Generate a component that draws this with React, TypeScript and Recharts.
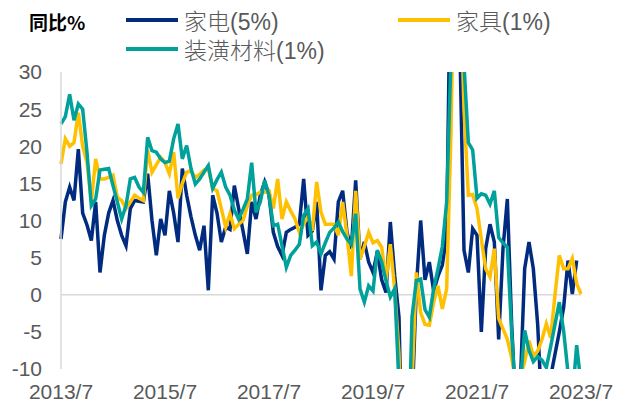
import { LineChart, Line, XAxis, YAxis, ReferenceLine } from 'recharts';

// monthly, 2013/7 .. 2023/7
const months: string[] = [];
for (let y = 2013, m = 7; y < 2023 || (y === 2023 && m <= 7); m++) {
  if (m > 12) { m = 1; y++; }
  months.push(`${y}/${m}`);
}

const yTicks = [-10, -5, 0, 5, 10, 15, 20, 25, 30];

// 家电(5%)
const appliance = [
  7.5, 12.5, 14.5, 12.7, 19.6, 11, 9.4, 7.3, 12.5, 3,
  8, 11, 12.7, 10, 8, 6.6, 11.6, 12.7, 12.6, 12.5,
  16.3, 10, 5.3, 10.2, 8, 14, 11, 7.1, 17, 13.4,
  10.5, 8, 6, 9.3, 0.6, 13.4, 11, 7.1, 9.1, 8.8,
  14.7, 11.6, 8.6, 5.5, 12.5, 10.2, 13.4, 15.2, 13.4, 8.4,
  6.5, 5.3, 8.4, 8.8, 9.1, 9.5, 15.6, 8, 8.6, 12.5,
  0.6, 5.3, 5.8, 4.8, 12.5, 14, 8.4, 6.2, 15.4, 4.8,
  7.1, 4.4, 3, 5.8, 2, 0.3, 9.8, 2.6, -3, -30,
  -25, -15, 1, 10, 2, 4.4, 0.5, 2.5, 4, 8,
  50, 60, 35, 6, 3, 8.9, 8, -5, 6.2, 9.5,
  7.1, -6, 6.2, 12.9, -4, -16, -12, 3.5, 7.1, 3.5,
  -4, -16, -14, -11, -8, -5, -1.7, 4.6, 0.1, 4.6,
  null,
];

// 家具(1%)
const furniture = [
  17.6, 21, 20, 20.5, 24.5, 20, 17.8, 12.5, 18.3, 15.6,
  15.6, 15.8, 16.1, 13.1, 12.7, 11.6, 12.5, 13.4, 13, 12.7,
  19.5, 16.5, 17.5, 18.5, 17.8, 16.3, 19.2, 13, 15, 16.5,
  16.7, 15.8, 16.2, 16.8, 17, 14.3, 14, 11.6, 9.1, 10.9,
  8.9, 9.5, 10, 12, 13.4, 13.5, 13.8, 13.8, 14, 11.6,
  15.6, 10.2, 12.5, 11.3, 10.2, 8.4, 9.5, 10.6, 8.6, 15.2,
  11.1, 9.5, 9.5, 9.5, 8, 12.5, 8, 2.5, 14, 4.8,
  6.5, 8.4, 7, 7.3, 6.4, 1.9, 6.8, 0.8, -8, -30,
  -28, -12, 3, -2.4, -4, -4.1, -1, 1.2, -1.9, 0.8,
  22, 55, 45, 25, 13.4, 13.5, 11.6, 7.5, 3.5, 2.4,
  6.2, -3.2, -4.6, -6, -8.5, -12, -11, -9, -6.2, -8.2,
  -7.6, -6, -3.9, -5.8, 0, 5.3, 3.5, 3.5, 4.9, 1.5,
  0.1,
];

// 装潢材料(1%)
const decoration = [
  23, 24, 27, 23.5, 25.7, 25, 19.2, 12, 12.9, 16.8,
  16.9, 17, 14.7, 12.5, 10.2, 12, 15.6, 15.8, 14.5, 13.8,
  21.2, 19.4, 19.2, 18.3, 17.8, 18, 21, 23, 18.3, 20.1,
  17, 14.9, 15.6, 16.5, 17.4, 14.3, 15.5, 16.5, 14.5, 13.4,
  11.4, 10.2, 11.5, 12.9, 17.8, 11.1, 12.5, 15.4, 13.4, 9.3,
  9.5, 6.6, 3.7, 5.3, 6, 6.8, 10.7, 11.6, 6.6, 7.1,
  5.5, 7, 8.4, 9, 9.8, 8.5, 7.5, 6.8, 10.9, 0.8,
  -1, 1.2, 0.5, 6, 4.4, 1.9, -0.3, 0.8, -12, -35,
  -25, -3, 1.9, 2.1, -2, -3, 0.8, 3.5, 6.5, 12.5,
  32, 60, 50, 31, 20.5, 19.5, 13, 13.6, 13.4, 12.2,
  14, 7.7, 7, 6.4, -5, -15, -12, -4.8, -7.5, -9,
  -8.3, -8.8, -9.8, -7, -4, -1, -4.9, -10.5, -14, -6.8,
  -12,
];

const data = months.map((month, i) => ({
  month,
  appliance: appliance[i],
  furniture: furniture[i],
  decoration: decoration[i],
}));

const NAVY = '#002B7F';
const GOLD = '#FFC000';
const TEAL = '#00A19A';
const FONT = '"Liberation Sans", Arial, "Noto Sans CJK SC", sans-serif';

function LegendItem({ x, y, color, label }: { x: number; y: number; color: string; label: string }) {
  return (
    <div style={{ position: 'absolute', left: x, top: y - 15, height: 30, display: 'flex', alignItems: 'center' }}>
      <div style={{ width: 52, height: 4, background: color, marginRight: 6 }} />
      <span style={{ fontSize: 23, color: '#595959', fontFamily: FONT, fontWeight: 300, whiteSpace: 'nowrap' }}>{label}</span>
    </div>
  );
}

export default function App() {
  return (
    <div style={{ position: 'absolute', left: 0, top: 0, width: 619, height: 410, background: '#fff' }}>
      <LineChart width={619} height={410} data={data} margin={{ top: 72, right: 38, left: 0, bottom: 0 }}>
        <XAxis
          dataKey="month"
          interval={23}
          axisLine={false}
          tickLine={false}
          tickSize={0}
          tickMargin={15}
          height={41}
          tick={{ fill: '#595959', fontSize: 21, fontFamily: FONT }}
        />
        <YAxis
          width={61}
          domain={[-10, 30]}
          ticks={yTicks}
          allowDataOverflow
          axisLine={{ stroke: '#D9D9D9', strokeWidth: 1.5 }}
          tickLine={false}
          tickSize={0}
          tickMargin={19}
          tick={{ fill: '#595959', fontSize: 21, fontFamily: FONT }}
        />
        <ReferenceLine y={0} stroke="#D9D9D9" strokeWidth={1.5} />
        <Line type="linear" dataKey="appliance" stroke={NAVY} strokeWidth={3.5} dot={false} isAnimationActive={false} />
        <Line type="linear" dataKey="furniture" stroke={GOLD} strokeWidth={3.5} dot={false} isAnimationActive={false} />
        <Line type="linear" dataKey="decoration" stroke={TEAL} strokeWidth={3.5} dot={false} isAnimationActive={false} />
      </LineChart>
      <div style={{ position: 'absolute', left: 29, top: 8, fontSize: 19, fontWeight: 'bold', color: '#000', fontFamily: '"Noto Sans CJK SC", sans-serif' }}>
        同比%
      </div>
      <LegendItem x={126} y={20} color={NAVY} label="家电(5%)" />
      <LegendItem x={398} y={20} color={GOLD} label="家具(1%)" />
      <LegendItem x={126} y={49} color={TEAL} label="装潢材料(1%)" />
    </div>
  );
}
